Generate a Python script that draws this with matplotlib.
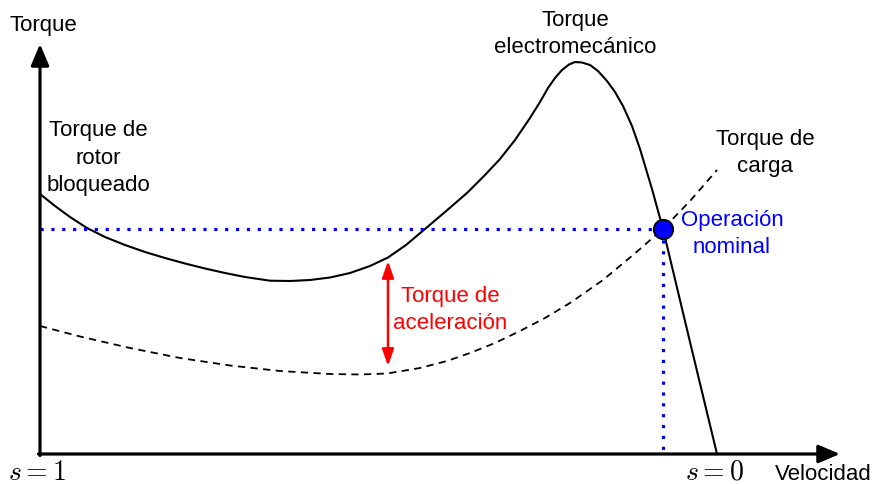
import numpy as np
import matplotlib.pyplot as plt

plt.rcParams['font.family'] = ['Liberation Sans', 'DejaVu Sans']
plt.rcParams['mathtext.fontset'] = 'cm'

# speed (0 at s=1) and torque
em_speed = [0, 15, 30, 47, 65, 85, 105, 125, 145, 165, 185, 205, 230, 250,
            270, 290, 310, 330, 348, 366, 385, 405, 427, 445, 460, 475, 490,
            500, 508, 515, 522, 529, 535, 542, 550, 558, 567, 575, 583, 592,
            600, 612, 623, 650, 677]
em_torque = [260, 248, 237, 226, 217, 209, 202, 196, 190.5, 185.5, 181, 177,
             173.3, 173, 174, 176.5, 181, 188, 196.5, 209, 225, 242, 261, 279,
             295, 314, 336, 352, 366, 376, 384, 389.5, 392, 391.5, 389, 383,
             373, 362, 348, 328, 305, 265, 225, 112, 0]

load_speed = [0, 40, 90, 140, 190, 240, 290, 320, 347, 380, 407, 430, 455,
              480, 505, 530, 563, 593, 623, 650, 677]
load_torque = [128, 117.5, 106, 96, 88.5, 83, 80, 79.5, 80.5, 86, 93, 101,
               111, 123, 136, 151, 174, 199, 225, 253, 284]

op_point = (623, 225)
accel_x = 348
accel_top, accel_bot = 193, 88

fig = plt.figure(figsize=(8.72, 4.85), dpi=100)
ax = fig.add_axes([0, 0, 1, 1])
ax.set_xlim(-40, 832)
ax.set_ylim(-30, 455)
ax.axis('off')

# axes arrows
ax.annotate('', xy=(0, 410), xytext=(0, -1.5),
            arrowprops=dict(arrowstyle='-|>,head_length=1.3,head_width=0.55',
                            lw=2.3, color='black', shrinkA=0, shrinkB=0))
ax.annotate('', xy=(800, 0), xytext=(-1.5, 0),
            arrowprops=dict(arrowstyle='-|>,head_length=1.3,head_width=0.55',
                            lw=2.3, color='black', shrinkA=0, shrinkB=0))

ax.plot(em_speed, em_torque, color='black', lw=1.5, solid_joinstyle='round')
ax.plot(load_speed, load_torque, color='black', lw=1.3, ls=(0, (4, 3)))

# nominal operation guides
ax.plot([0, op_point[0]], [op_point[1], op_point[1]], color='blue', lw=2.3,
        ls=(0, (1, 2.4)))
ax.plot([op_point[0], op_point[0]], [op_point[1], 0], color='blue', lw=2.3,
        ls=(0, (1, 2.4)))
ax.plot(*op_point, 'o', ms=14, mfc='blue', mec='black', mew=1.3, zorder=5)

# acceleration torque arrow
ax.annotate('', xy=(accel_x, accel_top), xytext=(accel_x, accel_bot),
            arrowprops=dict(arrowstyle='<|-|>,head_length=1.0,head_width=0.35',
                            lw=1.8, color='red', shrinkA=0, shrinkB=0))

fs = 16
ls = 1.38
ax.text(-30, 430, 'Torque', fontsize=fs, ha='left', va='center')
ax.text(58, 297, 'Torque de\nrotor\nbloqueado', fontsize=fs, ha='center',
        va='center', linespacing=ls)
ax.text(535, 421, 'Torque\nelectromecánico', fontsize=fs, ha='center',
        va='center', linespacing=ls)
ax.text(725, 302, 'Torque de\ncarga', fontsize=fs, ha='center', va='center',
        linespacing=ls)
ax.text(692, 221, 'Operación\nnominal', fontsize=fs, ha='center', va='center',
        color='blue', linespacing=ls)
ax.text(410, 145, 'Torque de\naceleración', fontsize=fs, ha='center',
        va='center', color='red', linespacing=ls)
ax.text(-3, -25, '$s=1$', fontsize=20, ha='center', va='baseline')
ax.text(675, -25, '$s=0$', fontsize=20, ha='center', va='baseline')
ax.text(783, -20, 'Velocidad', fontsize=fs, ha='center', va='center')

plt.savefig('out.png', dpi=100)
